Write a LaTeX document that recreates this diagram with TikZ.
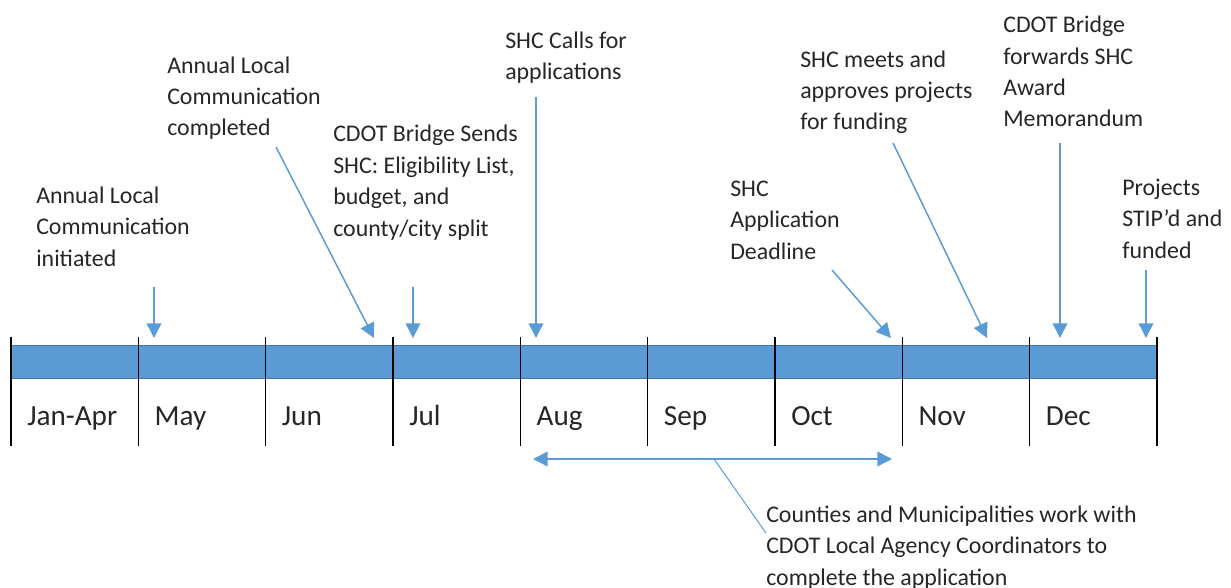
\documentclass[tikz,border=0pt]{standalone}
\usepackage{fontspec}
\setmainfont{Carlito}
\usetikzlibrary{arrows.meta}
\definecolor{barblue}{HTML}{5B9BD5}
\definecolor{bardark}{HTML}{41719C}
\definecolor{txtgray}{HTML}{262626}

\begin{document}
\begin{tikzpicture}[x=0.75pt,y=-0.75pt,
  every node/.style={font=\fontsize{17.9}{23.6}\selectfont, text=txtgray, inner sep=0pt},
  note/.style={align=left, anchor=base west},
  month/.style={font=\fontsize{21.9}{26}\selectfont, anchor=base west},
  pointer/.style={draw=barblue, line width=1.1pt, -{Triangle[length=11pt,width=11pt]}},
  spanarrow/.style={draw=barblue, line width=1.1pt, {Triangle[length=11pt,width=11pt]}-{Triangle[length=11pt,width=11pt]}},
  leader/.style={draw=barblue, line width=0.75pt},
  monthtick/.style={draw=black, line width=0.9pt}]
\useasboundingbox (0,0) rectangle (1231,588);
% Timeline bar
\fill[barblue] (11,345) rectangle (1157,378);
\draw[bardark, line width=0.5pt] (11,345) rectangle (1157,378);
\foreach \i in {0,...,9}
  \draw[monthtick] ({11+127.33*\i},337) -- ({11+127.33*\i},446);
% Months
\foreach \m [count=\i from 0] in {Jan-Apr,May,Jun,Jul,Aug,Sep,Oct,Nov,Dec}
  \node[month] (m\i) at ({27+127.33*\i},425) {\m};
% Notes (placed at the baseline of their last line)
\node[note] (initiated) at (36,266) {Annual Local\\Communication\\initiated};
\node[note] (completed) at (167,136) {Annual Local\\Communication\\completed};
\node[note] (sends) at (333,236) {CDOT Bridge Sends\\SHC: Eligibility List,\\budget, and\\county/city split};
\node[note] (calls) at (505,80) {SHC Calls for\\applications};
\node[note] (deadline) at (730,259) {SHC\\Application\\Deadline};
\node[note] (meets) at (800,130) {SHC meets and\\approves projects\\for funding};
\node[note] (forwards) at (1003,127) {CDOT Bridge\\forwards SHC\\Award\\Memorandum};
\node[note] (stip) at (1122,258) {Projects\\STIP’d and\\funded};
\node[note] (counties) at (766,585) {Counties and Municipalities work with\\CDOT Local Agency Coordinators to\\complete the application};
% Arrow ends
\coordinate (a1) at (154,287); \coordinate (b1) at (154,338);
\coordinate (a2) at (276,147); \coordinate (b2) at (374,338);
\coordinate (a3) at (413,287); \coordinate (b3) at (413,338);
\coordinate (a4) at (536,97);  \coordinate (b4) at (536,338);
\coordinate (a5) at (832,270); \coordinate (b5) at (891,338);
\coordinate (a6) at (893,143); \coordinate (b6) at (987,338);
\coordinate (a7) at (1060,143); \coordinate (b7) at (1060,338);
\coordinate (a8) at (1146,270); \coordinate (b8) at (1146,338);
\foreach \k in {1,...,8}
  \draw[pointer] (a\k) -- (b\k);
% Application window
\coordinate (augstart) at (533,459);
\coordinate (octend) at (892,459);
\coordinate (spanmid) at (714,459);
\draw[spanarrow] (augstart) -- (octend);
\draw[leader] (spanmid) -- (counties.west |- 0,533);
\end{tikzpicture}
\end{document}
